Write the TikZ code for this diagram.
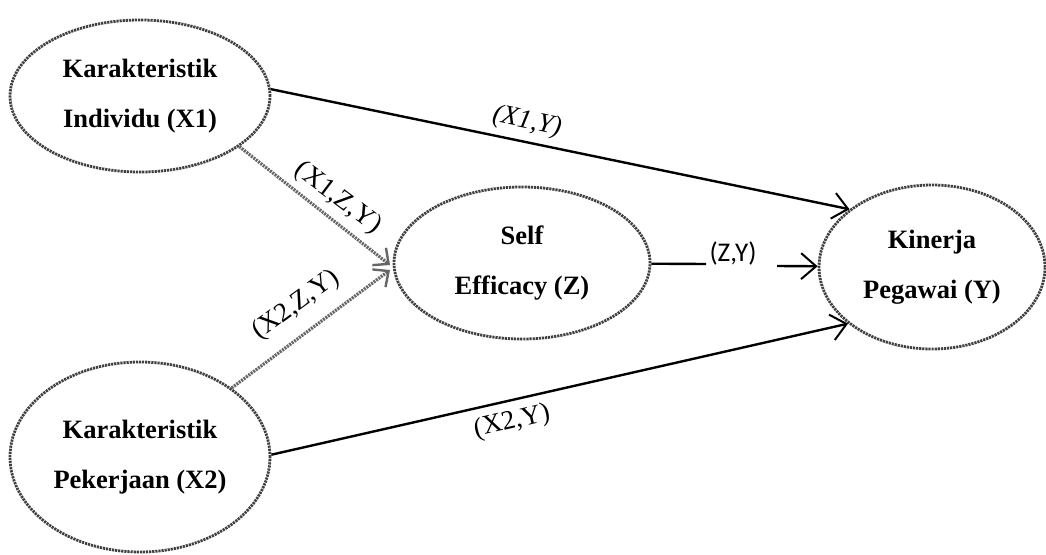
\documentclass[tikz,border=0pt]{standalone}
\usepackage{fontspec}
\setmainfont{Liberation Serif}
\newfontfamily\calibri{Carlito}
\usetikzlibrary{arrows.meta,shapes.geometric}
\begin{document}
\begin{tikzpicture}[x=1pt,y=-1pt,
  var/.style={ellipse, draw=black!75, line width=2.8pt, dash pattern=on 2.2pt off 0.9pt,
    inner sep=0pt, align=center, font=\fontsize{26.5}{50}\selectfont\bfseries},
  solidarr/.style={line width=2.4pt, -{Straight Barb[length=15pt,width=26pt,line width=2pt]}},
  grayarr/.style={line width=3.2pt, draw=black!60, dash pattern=on 2pt off 1pt,
    -{Straight Barb[length=12pt,width=22pt,line width=2.4pt]}},
  lbl/.style={font=\fontsize{27}{27}\selectfont, inner sep=0pt}]
\useasboundingbox (0,0) rectangle (1046,554);
\node[var, minimum width=260pt, minimum height=152pt] (X1) at (140,96) {Karakteristik\\Individu (X1)};
\node[var, minimum width=260pt, minimum height=190pt] (X2) at (140,457) {Karakteristik\\Pekerjaan (X2)};
\node[var, minimum width=256pt, minimum height=152pt] (Z) at (522,263) {Self\\Efficacy (Z)};
\node[var, minimum width=226pt, minimum height=164pt] (Y) at (932,267) {Kinerja\\Pegawai (Y)};
\coordinate (zy1) at (706,264);
\coordinate (zy2) at (777,266);
\coordinate (zin1) at (390,265);
\coordinate (zin2) at (390,270);
\draw[solidarr] (X1.3) -- (Y.145.5);
\draw[solidarr] (X2.1) -- (Y.214.5);
\draw[line width=2.4pt] (Z) -- (zy1);
\draw[solidarr] (zy2) -- (Y);
\draw[grayarr] (X1.-27) -- (zin1);
\draw[grayarr] (X2.37) -- (zin2);
\node[lbl, font=\fontsize{27}{27}\selectfont\itshape, rotate=-12] (l1) at (527,122) {(X1,Y)};
\node[lbl, rotate=-37] (l2) at (338,198) {(X1,Z,Y)};
\node[lbl, rotate=36] (l3) at (296,305) {(X2,Z,Y)};
\node[lbl, rotate=13] (l4) at (512,422) {(X2,Y)};
\node[lbl, font=\fontsize{27}{27}\selectfont\calibri] (l5) at (733,253) {(Z,Y)};
\end{tikzpicture}
\end{document}
